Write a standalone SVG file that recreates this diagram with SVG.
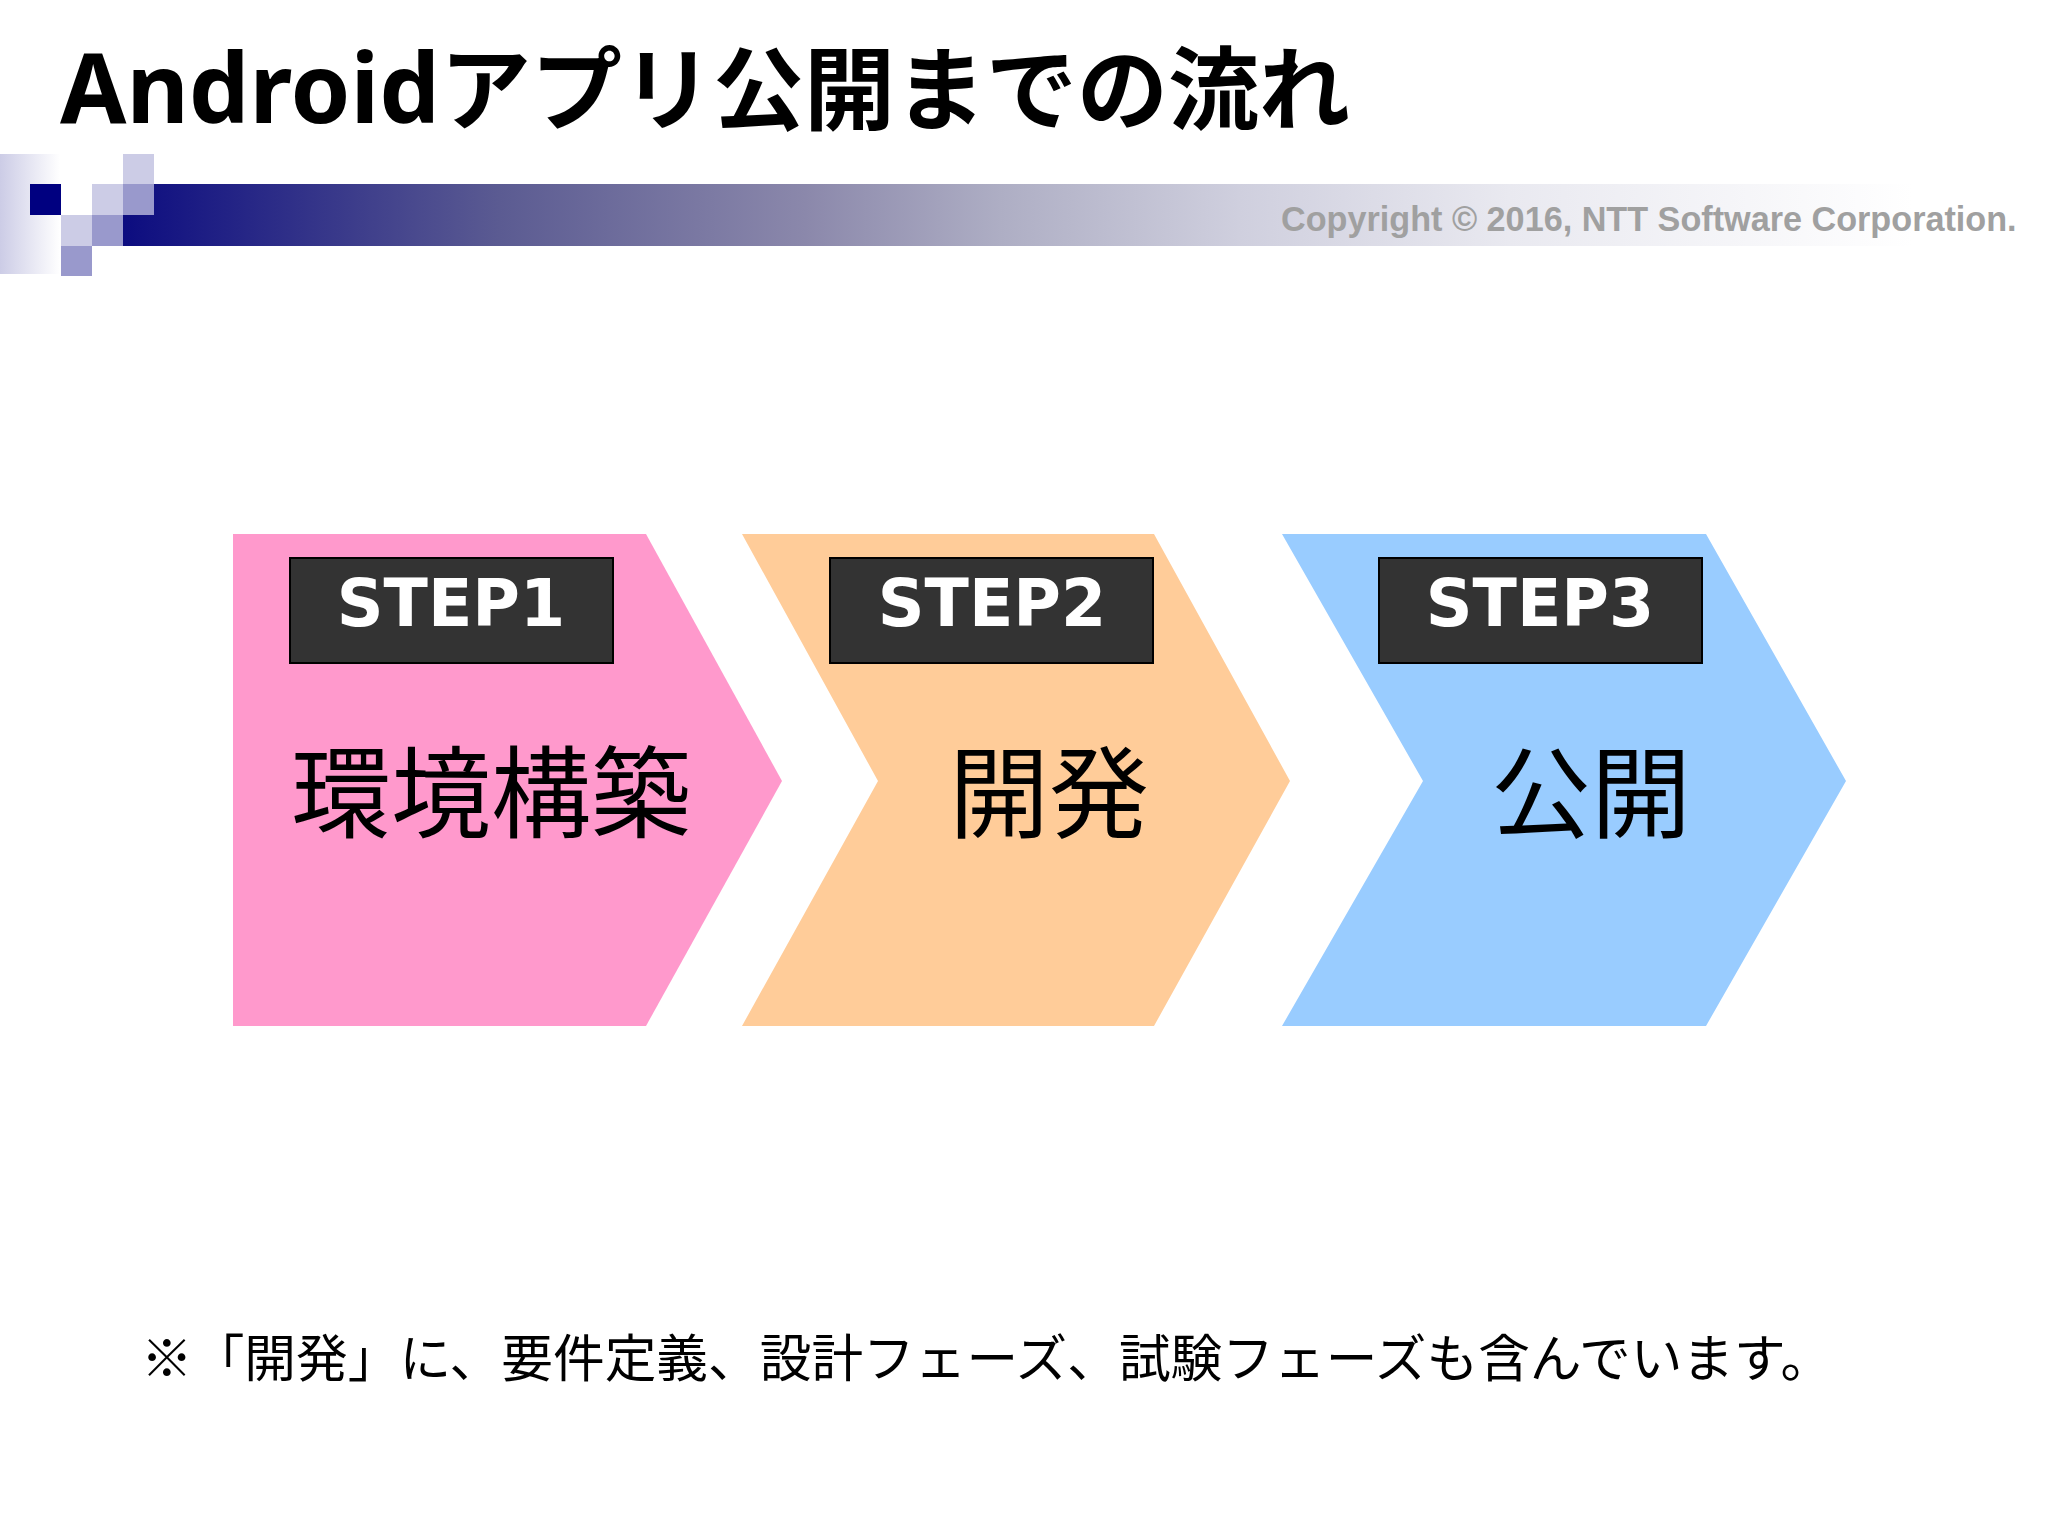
<svg xmlns="http://www.w3.org/2000/svg" width="2048" height="1536" viewBox="0 0 2048 1536">
<style>
.box{fill:#333333;stroke:#000000;stroke-width:2}
.step{font-family:"DejaVu Sans",sans-serif;font-weight:700;font-size:65px;fill:#ffffff;text-anchor:middle}
.big{font-family:"Noto Sans CJK JP",sans-serif;font-size:100px;fill:#000000;text-anchor:middle}
.lt{fill:#ccccE6}.md{fill:#9999CC}
</style>
<defs>
<linearGradient id="bar" gradientUnits="userSpaceOnUse" x1="122" x2="2048" y1="0" y2="0"><stop offset="0" stop-color="#0c0c80"/><stop offset="0.196" stop-color="#5b5b92"/><stop offset="0.355" stop-color="#8b88ab"/><stop offset="0.456" stop-color="#aeaec4"/><stop offset="0.58" stop-color="#cfcfde"/><stop offset="0.72" stop-color="#e9e9f0"/><stop offset="0.93" stop-color="#ffffff"/></linearGradient>
<linearGradient id="side" x1="0" x2="1" y1="0" y2="0"><stop offset="0" stop-color="#ccccE6"/><stop offset="1" stop-color="#ffffff"/></linearGradient>
</defs>
<rect width="2048" height="1536" fill="#ffffff"/>
<g id="header">
<rect x="0" y="154" width="60" height="120" fill="url(#side)"/>
<rect x="122" y="184" width="1926" height="62" fill="url(#bar)"/>
<rect x="30" y="184" width="31" height="31" fill="#000080"/>
<rect class="lt" x="92" y="184" width="31" height="31"/>
<rect class="lt" x="123" y="154" width="31" height="30"/>
<rect class="md" x="123" y="184" width="31" height="31"/>
<rect class="lt" x="61" y="215" width="31" height="31"/>
<rect class="md" x="92" y="215" width="31" height="31"/>
<rect class="md" x="61" y="246" width="31" height="30"/>
<text x="60" y="123" font-family="Noto Sans,sans-serif" font-weight="700" font-size="96" fill="#000000">Android<tspan font-family="Noto Sans CJK JP,sans-serif" font-size="91">アプリ公開までの流れ</tspan></text>
<text x="1281" y="231" font-family="Liberation Sans,sans-serif" font-weight="700" font-size="34.2" fill="#a0a0a0">Copyright © 2016, NTT Software Corporation.</text>
</g>
<g id="step1">
<polygon points="233,534 646,534 782,781 646,1026 233,1026" fill="#FF99CC"/>
<rect class="box" x="290" y="558" width="323" height="105"/>
<text class="step" x="451" y="626">STEP1</text>
<text class="big" x="491" y="830">環境構築</text>
</g>
<g id="step2">
<polygon points="742,534 1154,534 1290,781 1154,1026 742,1026 878,781" fill="#FFCC99"/>
<rect class="box" x="830" y="558" width="323" height="105"/>
<text class="step" x="992" y="626">STEP2</text>
<text class="big" x="1049" y="830">開発</text>
</g>
<g id="step3">
<polygon points="1282,534 1706,534 1846,781 1706,1026 1282,1026 1423,781" fill="#99CCFF"/>
<rect class="box" x="1379" y="558" width="323" height="105"/>
<text class="step" x="1540" y="626">STEP3</text>
<text class="big" x="1591" y="830">公開</text>
</g>
<g id="connectors"/>
<text id="note" x="141" y="1377" font-family="Noto Sans CJK JP,sans-serif" font-size="51.7" fill="#000000">※「開発」に、要件定義、設計フェーズ、試験フェーズも含んでいます。</text>
</svg>
